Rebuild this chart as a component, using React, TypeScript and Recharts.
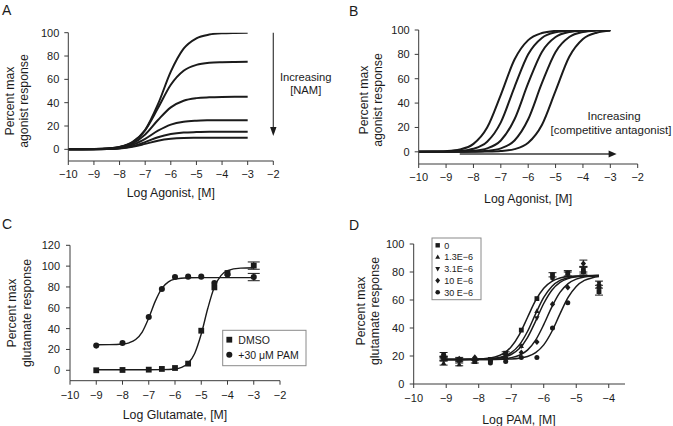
import React from "react";
import {
  ComposedChart,
  Line,
  Scatter,
  XAxis,
  YAxis,
  ReferenceLine,
  ReferenceDot,
  ErrorBar,
} from "recharts";

const FONT = '"Liberation Sans", Arial, Helvetica, sans-serif';
const INK = "#1b1b1b";
const AXIS = "#3a3a3a";

// ---- A: agonist curves with increasing NAM (curve per NAM level) ----
const A_LOG = [-10, -9.5, -9, -8.5, -8, -7.5, -7, -6.5, -6, -5.5, -5, -4.5, -4, -3.5, -3];
const A_R100 = [0.02, 0.06, 0.2, 0.63, 2.0, 5.9, 16.6, 38.7, 66.6, 86.3, 95.2, 98.4, 99.5, 99.8, 99.9];
const A_R75 = [0.02, 0.07, 0.2, 0.7, 2.0, 6.2, 16.5, 35.4, 55.4, 67.4, 72.4, 74.2, 74.7, 74.9, 75];
const A_R45 = [0.02, 0.06, 0.18, 0.56, 1.7, 5.0, 12.8, 25.1, 36.0, 41.7, 43.9, 44.6, 44.9, 45, 45];
const A_R25 = [0.01, 0.04, 0.14, 0.44, 1.3, 3.8, 9.0, 16.0, 21.2, 23.7, 24.6, 24.9, 25, 25, 25];
const A_R15 = [0.01, 0.03, 0.1, 0.33, 1.0, 2.7, 6.2, 10.4, 13.1, 14.4, 14.8, 15, 15, 15, 15];
const A_R10 = [0.01, 0.03, 0.09, 0.27, 0.8, 2.2, 4.7, 7.4, 9.0, 9.7, 9.9, 10, 10, 10, 10];

// ---- B: competitive antagonist shifts ----
const B_LOG = [-10, -9.5, -9, -8.5, -8, -7.5, -7, -6.5, -6, -5.5, -5, -4.5, -4, -3.5, -3];
const B_C1 = [0.04, 0.16, 0.55, 1.9, 6.5, 19.9, 46.8, 75.8, 91.7, 97.5, 99.3, 99.8, 99.9, 100, 100];
const B_C2 = [0.02, 0.06, 0.2, 0.71, 2.5, 8.3, 24.2, 53.2, 80.1, 93.5, 98.1, 99.45, 99.8, 99.9, 100];
const B_C3 = [0, 0.02, 0.06, 0.23, 0.81, 2.8, 9.3, 26.7, 56.3, 82.0, 94.2, 98.3, 99.5, 99.86, 99.95];
const B_C4 = [0, 0, 0.02, 0.06, 0.23, 0.81, 2.8, 9.3, 26.7, 56.3, 82.0, 94.2, 98.3, 99.5, 99.86];
const B_C5 = [0, 0, 0, 0.01, 0.05, 0.18, 0.63, 2.2, 7.4, 22.0, 50, 78.0, 92.6, 97.8, 99.4];

// ---- C: glutamate CRC, DMSO vs +30 uM PAM ----
const C_LOG = [-9, -8, -7, -6.5, -6, -5.5, -5, -4.5, -4, -3];
const C_DMSO = [0, 0.3, 0.6, 1.3, 2.2, 6.4, 38, 79.6, 93.4, 100.5];
const C_DMSO_ERR = [0, 0, 0, 0, 0, 0, 0, 0, 0, 3.5];
const C_PAM = [23.7, 26.2, 51.2, 78, 89.6, 89.9, 89.9, 83.8, 92, 89.5];
const C_PAM_ERR = [0, 0, 0, 0, 0, 0, 0, 0, 0, 3.5];
const C_FIT_DMSO_LOG = [-9, -8, -7, -6.5, -6, -5.75, -5.5, -5.25, -5, -4.75, -4.5, -4.25, -4, -3.5, -3];
const C_FIT_DMSO = [0.5, 0.5, 0.51, 0.6, 1.3, 2.8, 6.7, 16.2, 34.8, 59.5, 79.9, 90.9, 95.7, 98.1, 98.45];
const C_FIT_PAM_LOG = [-9, -8.5, -8, -7.75, -7.5, -7.25, -7, -6.75, -6.5, -6.25, -6, -5.5, -5, -4, -3];
const C_FIT_PAM = [24.5, 24.6, 25.2, 26.4, 29.5, 36.7, 50.2, 66.4, 78.7, 84.9, 87.5, 88.8, 89, 89, 89];

// ---- D: PAM CRC at several fixed concentrations ----
const D_LOG = [-9.08, -8.6, -8.12, -7.64, -7.17, -6.69, -6.21, -5.73, -5.26, -4.78, -4.3];
const D_S0 = [18, 17, 16, 17, 22, 38.5, 61, 78, 79, 81, 66];
const D_S13 = [15, 14, 16, 17, 19, 27, 52, 76, 79, 80, 70];
const D_S31 = [19, 18, 18, 18, 20, 27, 47, 75, 78.5, 82, 72];
const D_S10 = [18, 18, 19, 17, 19, 22.5, 30, 57, 69, 86, 71];
const D_S30 = [21, 17, 17, 15, 16, 19, 19, 40, 58, 80, 69];
const D_ERR0 = [1.5, 1, 1, 0, 1, 0, 0, 1.5, 2, 2.5, 2.5];
const D_ERR13 = [1.5, 1, 0, 0, 0, 0, 0, 0, 0, 0, 0];
const D_ERR31 = [1, 1, 0, 0, 0, 0, 0, 0, 1.5, 2, 1.5];
const D_ERR10 = [1, 0, 0, 0, 0, 0, 0, 0, 0, 2.5, 0];
const D_ERR30 = [1.5, 0, 0, 0, 0, 0, 0, 0, 0, 0, 0];
const D_FIT_LOG = [-9.08, -8.5, -8, -7.5, -7.25, -7, -6.75, -6.5, -6.25, -6, -5.75, -5.5, -5.25, -5, -4.75, -4.5, -4.3];
const D_FIT0 = [17.5, 17.56, 17.84, 19.34, 21.68, 26.56, 35.3, 47.5, 59.7, 68.4, 73.3, 75.7, 76.7, 77.15, 77.35, 77.44, 77.47];
const D_FIT13 = [17.5, 17.53, 17.67, 18.44, 19.67, 22.41, 27.96, 37.5, 50.1, 61.8, 69.7, 74.0, 75.9, 76.8, 77.2, 77.4, 77.44];
const D_FIT31 = [17.5, 17.52, 17.62, 18.17, 19.05, 21.06, 25.3, 33.2, 44.9, 57.5, 67.0, 72.6, 75.3, 76.56, 77.1, 77.3, 77.42];
const D_FIT10 = [17.5, 17.5, 17.54, 17.74, 18.06, 18.81, 20.52, 24.2, 31.3, 42.4, 55.1, 65.4, 71.7, 74.9, 76.4, 77.0, 77.25];
const D_FIT30 = [17.5, 17.5, 17.5, 17.57, 17.67, 17.9, 18.44, 19.67, 22.41, 27.96, 37.5, 50.1, 61.8, 69.7, 74.0, 75.9, 76.7];

const X_TICKS = [-10, -9, -8, -7, -6, -5, -4, -3, -2];
const D_X_TICKS = [-10, -9, -8, -7, -6, -5, -4];
const Y_TICKS = [0, 20, 40, 60, 80, 100];
const C_Y_TICKS = [0, 20, 40, 60, 80, 100, 120];

type MarkerKind = "square" | "circle" | "tri" | "triDown" | "diamond";

const rowsA = A_LOG.map((x, i) => ({
  x, r100: A_R100[i], r75: A_R75[i], r45: A_R45[i], r25: A_R25[i], r15: A_R15[i], r10: A_R10[i],
}));
const rowsB = B_LOG.map((x, i) => ({ x, c1: B_C1[i], c2: B_C2[i], c3: B_C3[i], c4: B_C4[i], c5: B_C5[i] }));
const pts = (xs: number[], ys: number[], errs?: number[]) =>
  xs.map((x, i) => ({ x, y: ys[i], err: errs ? errs[i] : 0 }));

const C_SERIES = [
  { name: "DMSO", kind: "square" as MarkerKind, data: pts(C_LOG, C_DMSO, C_DMSO_ERR), fit: pts(C_FIT_DMSO_LOG, C_FIT_DMSO) },
  { name: "+30 \u03bcM PAM", kind: "circle" as MarkerKind, data: pts(C_LOG, C_PAM, C_PAM_ERR), fit: pts(C_FIT_PAM_LOG, C_FIT_PAM) },
];
const D_SERIES = [
  { name: "0", kind: "square" as MarkerKind, data: pts(D_LOG, D_S0, D_ERR0), fit: pts(D_FIT_LOG, D_FIT0) },
  { name: "1.3E\u22126", kind: "tri" as MarkerKind, data: pts(D_LOG, D_S13, D_ERR13), fit: pts(D_FIT_LOG, D_FIT13) },
  { name: "3.1E\u22126", kind: "triDown" as MarkerKind, data: pts(D_LOG, D_S31, D_ERR31), fit: pts(D_FIT_LOG, D_FIT31) },
  { name: "10 E\u22126", kind: "diamond" as MarkerKind, data: pts(D_LOG, D_S10, D_ERR10), fit: pts(D_FIT_LOG, D_FIT10) },
  { name: "30 E\u22126", kind: "circle" as MarkerKind, data: pts(D_LOG, D_S30, D_ERR30), fit: pts(D_FIT_LOG, D_FIT30) },
];

const fmt = (v: number) => (v < 0 ? `\u2212${Math.abs(v)}` : `${v}`);
const tickStyle = { fontSize: 11, fill: INK, fontFamily: FONT };

function Marker({ cx, cy, kind, r }: { cx: number; cy: number; kind: MarkerKind; r: number }) {
  if (cx == null || cy == null) return null;
  if (kind === "square") return <rect x={cx - r} y={cy - r} width={2 * r} height={2 * r} fill={INK} />;
  if (kind === "circle") return <circle cx={cx} cy={cy} r={r * 1.05} fill={INK} />;
  if (kind === "tri")
    return <polygon points={`${cx},${cy - r * 1.2} ${cx + r * 1.1},${cy + r * 0.8} ${cx - r * 1.1},${cy + r * 0.8}`} fill={INK} />;
  if (kind === "triDown")
    return <polygon points={`${cx},${cy + r * 1.2} ${cx + r * 1.1},${cy - r * 0.8} ${cx - r * 1.1},${cy - r * 0.8}`} fill={INK} />;
  return <polygon points={`${cx},${cy - r * 1.3} ${cx + r * 1.1},${cy} ${cx},${cy + r * 1.3} ${cx - r * 1.1},${cy}`} fill={INK} />;
}

const abs = (left: number, top: number): React.CSSProperties => ({ position: "absolute", left, top });

export default function App() {
  return (
    <div style={{ position: "absolute", left: 0, top: 0, width: 673, height: 426, background: "#fff", fontFamily: FONT }}>
      {/* A */}
      <div style={abs(0, 0)}>
        <ComposedChart width={336} height={213} data={rowsA} margin={{ top: 32.7, right: 62.7, bottom: 22, left: 28.3 }}>
          <XAxis type="number" dataKey="x" domain={[-10, -2]} ticks={X_TICKS} interval={0} tickFormatter={fmt}
            allowDataOverflow height={30} tickSize={4} tickMargin={5} tick={tickStyle}
            axisLine={{ stroke: AXIS }} tickLine={{ stroke: AXIS }} />
          <YAxis type="number" domain={[-10, 100]} ticks={Y_TICKS} interval={0} allowDataOverflow width={40}
            tickSize={4} tickMargin={5} tick={tickStyle} axisLine={{ stroke: AXIS }} tickLine={{ stroke: AXIS }} />
          {["r100", "r75", "r45", "r25", "r15", "r10"].map((k) => (
            <Line key={k} dataKey={k} type="monotone" dot={false} stroke={INK} strokeWidth={2} isAnimationActive={false} />
          ))}
          <ReferenceLine segment={[{ x: -2, y: 100 }, { x: -2, y: 14 }]} stroke={AXIS} strokeWidth={1.2} />
          <ReferenceDot x={-2} y={11.4} r={0}
            shape={(p: any) => <polygon points={`${p.cx - 3.2},${p.cy - 9} ${p.cx + 3.2},${p.cy - 9} ${p.cx},${p.cy}`} fill={INK} />} />
        </ComposedChart>
      </div>

      {/* B */}
      <div style={abs(336, 0)}>
        <ComposedChart width={337} height={213} data={rowsB} margin={{ top: 30, right: 35.3, bottom: 19, left: 42.7 }}>
          <XAxis type="number" dataKey="x" domain={[-10, -2]} ticks={X_TICKS} interval={0} tickFormatter={fmt}
            allowDataOverflow height={30} tickSize={4} tickMargin={5} tick={tickStyle}
            axisLine={{ stroke: AXIS }} tickLine={{ stroke: AXIS }} />
          <YAxis type="number" domain={[-10, 100]} ticks={Y_TICKS} interval={0} allowDataOverflow width={40}
            tickSize={4} tickMargin={5} tick={tickStyle} axisLine={{ stroke: AXIS }} tickLine={{ stroke: AXIS }} />
          {["c1", "c2", "c3", "c4", "c5"].map((k) => (
            <Line key={k} dataKey={k} type="monotone" dot={false} stroke={INK} strokeWidth={2} isAnimationActive={false} />
          ))}
          <ReferenceLine segment={[{ x: -8.5, y: -1.8 }, { x: -2.95, y: -1.8 }]} stroke={AXIS} strokeWidth={1.3} />
          <ReferenceDot x={-2.77} y={-1.8} r={0}
            shape={(p: any) => <polygon points={`${p.cx - 8},${p.cy - 3.5} ${p.cx - 8},${p.cy + 3.5} ${p.cx},${p.cy}`} fill={INK} />} />
        </ComposedChart>
      </div>

      {/* C */}
      <div style={abs(0, 213)}>
        <ComposedChart width={336} height={213} margin={{ top: 32.3, right: 56, bottom: 15.3, left: 30 }}>
          <XAxis type="number" dataKey="x" domain={[-10, -2]} ticks={X_TICKS} interval={0} tickFormatter={fmt}
            allowDataOverflow height={30} tickSize={4} tickMargin={6.5} tick={tickStyle}
            axisLine={{ stroke: AXIS }} tickLine={{ stroke: AXIS }} />
          <YAxis type="number" dataKey="y" domain={[-10, 120]} ticks={C_Y_TICKS} interval={0} allowDataOverflow width={40}
            tickSize={4} tickMargin={6} tick={tickStyle} axisLine={{ stroke: AXIS }} tickLine={{ stroke: AXIS }} />
          {C_SERIES.map((s) => (
            <Line key={s.name + "fit"} data={s.fit} dataKey="y" type="monotone" dot={false} stroke={INK} strokeWidth={1.4} isAnimationActive={false} />
          ))}
          {C_SERIES.map((s) => (
            <Scatter key={s.name} data={s.data} isAnimationActive={false}
              shape={(p: any) => <Marker cx={p.cx} cy={p.cy} kind={s.kind} r={2.9} />}>
              <ErrorBar dataKey="err" direction="y" width={6} stroke={INK} strokeWidth={1} />
            </Scatter>
          ))}
        </ComposedChart>
      </div>

      {/* D */}
      <div style={abs(336, 213)}>
        <ComposedChart width={337} height={213} margin={{ top: 31, right: 48, bottom: 12, left: 37.7 }}>
          <XAxis type="number" dataKey="x" domain={[-10, -3.5]} ticks={D_X_TICKS} interval={0} tickFormatter={fmt}
            allowDataOverflow height={30} tickSize={4} tickMargin={6} tick={tickStyle}
            axisLine={{ stroke: AXIS }} tickLine={{ stroke: AXIS }} />
          <YAxis type="number" dataKey="y" domain={[0, 100]} ticks={Y_TICKS} interval={0} allowDataOverflow width={40}
            tickSize={4} tickMargin={5.4} tick={tickStyle} axisLine={{ stroke: AXIS }} tickLine={{ stroke: AXIS }} />
          {D_SERIES.map((s) => (
            <Line key={s.name + "fit"} data={s.fit} dataKey="y" type="monotone" dot={false} stroke={INK} strokeWidth={1.5} isAnimationActive={false} />
          ))}
          {D_SERIES.map((s) => (
            <Scatter key={s.name} data={s.data} isAnimationActive={false}
              shape={(p: any) => <Marker cx={p.cx} cy={p.cy} kind={s.kind} r={2.4} />}>
              <ErrorBar dataKey="err" direction="y" width={4} stroke={INK} strokeWidth={1} />
            </Scatter>
          ))}
        </ComposedChart>
      </div>

      {/* text layer */}
      <svg width={673} height={426} style={{ position: "absolute", left: 0, top: 0, pointerEvents: "none" }}
        fontFamily={FONT} fill={INK}>
        <text x={2} y={15} fontSize={14}>A</text>
        <text x={349} y={16} fontSize={14}>B</text>
        <text x={2} y={229} fontSize={14}>C</text>
        <text x={349} y={230} fontSize={14}>D</text>

        <text x={170.8} y={197} fontSize={12.3} textAnchor="middle">Log Agonist, [M]</text>
        <text x={528.2} y={203} fontSize={12.3} textAnchor="middle">Log Agonist, [M]</text>
        <text x={175} y={419} fontSize={12.3} textAnchor="middle">Log Glutamate, [M]</text>
        <text x={519} y={423.5} fontSize={12.3} textAnchor="middle">Log PAM, [M]</text>

        <g fontSize={12.3} textAnchor="middle">
          <text transform="translate(14.3,101) rotate(-90)">Percent max</text>
          <text transform="translate(28.3,101) rotate(-90)">agonist response</text>
          <text transform="translate(368,100) rotate(-90)">Percent max</text>
          <text transform="translate(382,100) rotate(-90)">agonist response</text>
          <text transform="translate(16,313) rotate(-90)">Percent max</text>
          <text transform="translate(30.5,313) rotate(-90)">glutamate response</text>
          <text transform="translate(365.3,311) rotate(-90)">Percent max</text>
          <text transform="translate(379.3,311) rotate(-90)">glutamate response</text>
        </g>

        <g fontSize={11.2} textAnchor="middle">
          <text x={305.7} y={80.7}>Increasing</text>
          <text x={305.7} y={94}>[NAM]</text>
        </g>
        <g fontSize={11.5} textAnchor="middle">
          <text x={614} y={120}>Increasing</text>
          <text x={611} y={134.3}>[competitive antagonist]</text>
        </g>

        {/* C legend */}
        <rect x={222.7} y={330.3} width={83.3} height={35.4} fill="#fff" stroke="#8a8a8a" strokeWidth={1} />
        {C_SERIES.map((s, i) => (
          <g key={s.name}>
            <Marker cx={229.3} cy={339.7 + i * 15} kind={s.kind} r={2.9} />
            <text x={238.3} y={339.7 + i * 15 + 3.8} fontSize={10.5}>{s.name}</text>
          </g>
        ))}

        {/* D legend */}
        <rect x={432} y={238} width={49} height={61.7} fill="#fff" stroke="#8a8a8a" strokeWidth={1} />
        {D_SERIES.map((s, i) => (
          <g key={s.name}>
            <Marker cx={437.7} cy={245.3 + i * 11.75} kind={s.kind} r={2.2} />
            <text x={444.3} y={245.3 + i * 11.75 + 3.2} fontSize={9}>{s.name}</text>
          </g>
        ))}
      </svg>
    </div>
  );
}
